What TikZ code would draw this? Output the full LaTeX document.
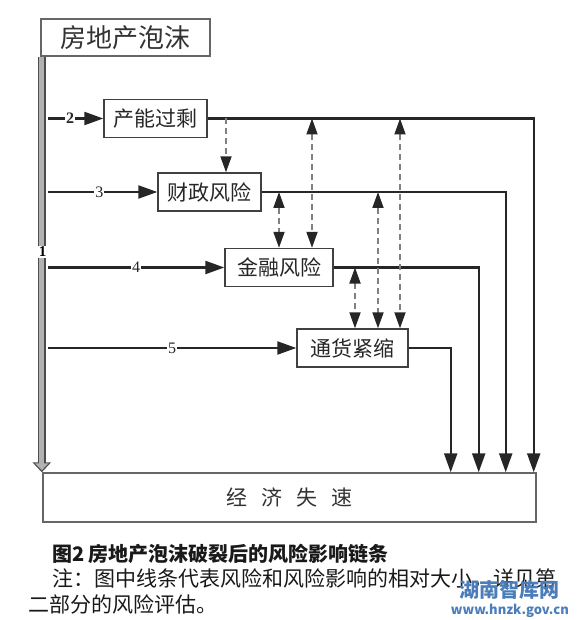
\documentclass[tikz,border=0pt]{standalone}
\usepackage{fontspec}
\setmainfont{Liberation Serif}
\newfontfamily\song{Noto Sans CJK SC}
\newfontfamily\hei{Noto Sans CJK SC}
\usetikzlibrary{arrows.meta,positioning}
\definecolor{wmblue}{RGB}{74,125,185}

\begin{document}
\begin{tikzpicture}[
    x=1pt, y=-1pt,
    box/.style={draw=black!75, line width=1.4pt, minimum height=38pt, inner sep=0pt, text=black!85, font=\song\fontsize{21}{24}\selectfont},
    frame/.style={draw=black!60, line width=1.4pt, inner sep=0pt, text=black!80},
    flow/.style={draw=black!85, line width=2.2pt, -{Triangle[length=19pt,width=13pt]}},
    link/.style={draw=black!50, line width=1.8pt, dash pattern=on 6pt off 4pt, {Triangle[length=16pt,width=11pt,color=black!85]}-{Triangle[length=16pt,width=11pt,color=black!85]}},
    linkdown/.style={draw=black!50, line width=1.8pt, dash pattern=on 6pt off 4pt, -{Triangle[length=16pt,width=11pt,color=black!85]}},
    num/.style={fill=white, inner sep=1pt, text=black!85, font=\fontsize{16}{16}\selectfont},
    plain/.style={anchor=west, inner sep=0pt}
]
    \useasboundingbox (0,0) rectangle (577,620);

    \node[frame, minimum width=169pt, minimum height=37pt, font=\song\fontsize{26}{28}\selectfont] (bubble) at (125.5,37.5) {房地产泡沫};
    \node[box, minimum width=103pt] (overcap) at (155.5,118.5) {产能过剩};
    \node[box, minimum width=103pt] (fiscal) at (209.5,192) {财政风险};
    \node[box, minimum width=108pt] (finance) at (279,267.5) {金融风险};
    \node[box, minimum width=111pt] (deflation) at (352.5,348) {通货紧缩};
    \node[frame, minimum width=493pt, minimum height=49pt, font=\song\fontsize{21}{24}\selectfont] (econ) at (289.5,497.5) {经\hspace{14pt}济\hspace{14pt}失\hspace{14pt}速};

    % main channel 1
    \coordinate (bar) at ([xshift=1.5pt]bubble.south west);
    \draw[line width=8pt, draw=black!70, -{Triangle[length=10pt,width=18pt]}] (bar) -- (bar |- econ.north);
    \draw[line width=5pt, draw=gray!60, -{Triangle[length=7pt,width=13pt]}] (bar) -- ([yshift=2pt]bar |- econ.north);
    \node[fill=white, inner sep=1pt, font=\bfseries\fontsize{15}{15}\selectfont] (one) at (42.5,252) {1};

    % channels 2-5
    \coordinate (start) at (48,56);
    \draw[flow] (start |- overcap) -- node[num, pos=0.4, font=\bfseries\fontsize{16}{16}\selectfont] (two) {2} (overcap);
    \draw[flow] (start |- fiscal) -- node[num, pos=0.47] (three) {3} (fiscal);
    \draw[flow] (start |- finance) -- node[num, pos=0.5] (four) {4} (finance);
    \draw[flow] (start |- deflation) -- node[num, pos=0.5] (five) {5} (deflation);

    \draw[flow] (overcap.east) -| ([xshift=-3pt]econ.north east);
    \draw[flow] (fiscal.east) -| ([xshift=-31pt]econ.north east);
    \draw[flow] (finance.east) -| ([xshift=-58pt]econ.north east);
    \draw[flow] (deflation.east) -| ([xshift=-86pt]econ.north east);

    % cross effects
    \coordinate (c1) at (226,0);
    \coordinate (c2) at (279,0);
    \coordinate (c3) at (312,0);
    \coordinate (c4) at (355,0);
    \coordinate (c5) at (378,0);
    \coordinate (c6) at (400,0);
    \draw[linkdown] (c1 |- overcap.east) -- (c1 |- fiscal.north);
    \draw[link] (c2 |- fiscal.east) -- (c2 |- finance.north);
    \draw[link] (c3 |- overcap.east) -- (c3 |- finance.north);
    \draw[link] (c4 |- finance.east) -- (c4 |- deflation.north);
    \draw[link] (c5 |- fiscal.east) -- (c5 |- deflation.north);
    \draw[link] (c6 |- overcap.east) -- (c6 |- deflation.north);

    % caption
    \node[plain, font=\hei\bfseries\fontsize{20}{24}\selectfont, text=black!90] (caption) at (52,554) {图2 房地产泡沫破裂后的风险影响链条};
    \node[plain, font=\song\fontsize{21}{25}\selectfont, text=black!90] (note) at (52,579) {注：图中线条代表风险和风险影响的相对大小，详见第};
    \node[plain, font=\song\fontsize{21}{25}\selectfont, text=black!90] (notetail) at (28,604) {二部分的风险评估。};
    \node[anchor=east, inner sep=0pt, font=\hei\bfseries\fontsize{20}{22}\selectfont, text=wmblue] (mark) at (560,590) {湖南智库网};
    \node[anchor=east, inner sep=0pt, font=\hei\bfseries\fontsize{13}{14}\selectfont, text=wmblue] (site) at (569,611) {www.hnzk.gov.cn};
\end{tikzpicture}
\end{document}
